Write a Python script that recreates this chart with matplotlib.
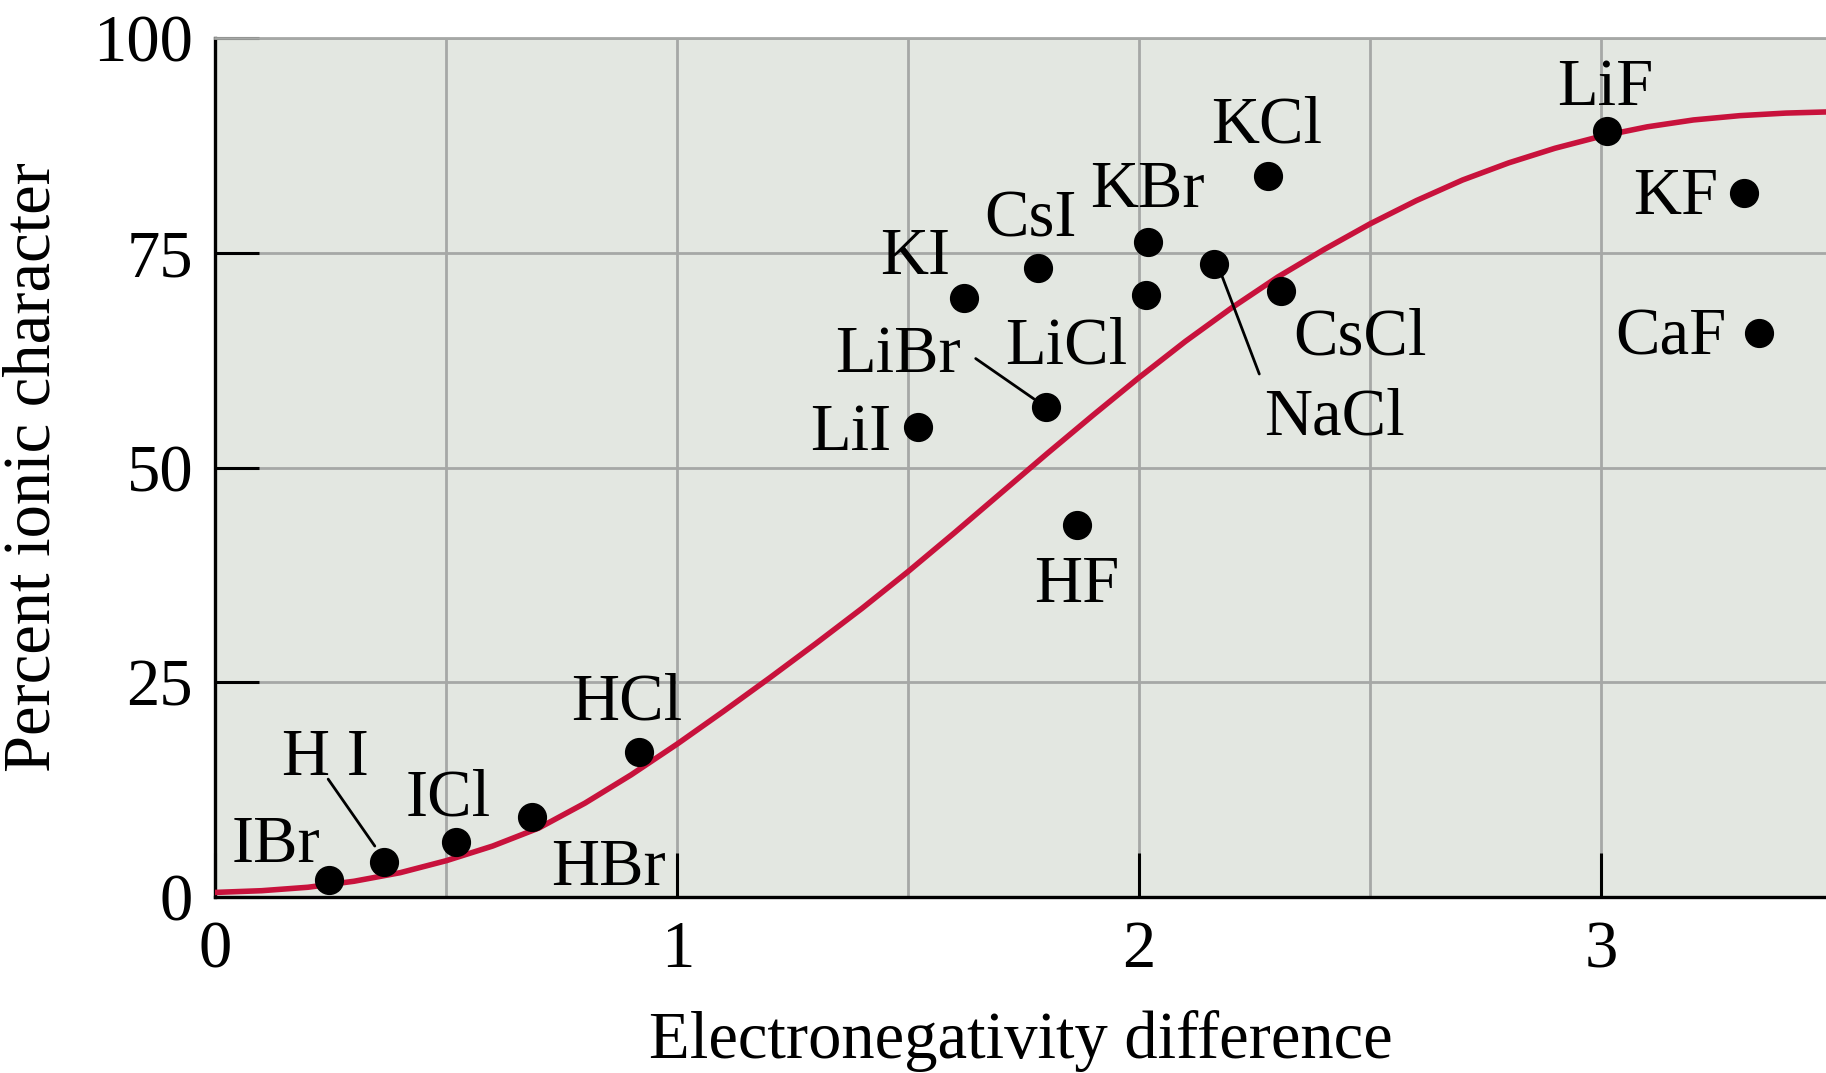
import matplotlib
matplotlib.use('Agg')
import matplotlib.pyplot as plt

# ---- data ----
compounds = ['IBr', 'H I', 'ICl', 'HBr', 'HCl', 'LiI', 'KI', 'CsI', 'LiBr', 'HF',
             'LiCl', 'KBr', 'NaCl', 'KCl', 'CsCl', 'LiF', 'KF', 'CaF']
en_diff = [0.245, 0.365, 0.52, 0.685, 0.918, 1.522, 1.621, 1.78, 1.798, 1.865,
           2.014, 2.018, 2.162, 2.279, 2.308, 3.012, 3.31, 3.343]
ionic_pct = [1.9, 4.0, 6.4, 9.3, 16.9, 54.7, 69.8, 73.3, 57.0, 43.3,
             70.1, 76.3, 73.7, 84.0, 70.6, 89.2, 82.0, 65.7]

curve_x = [0.0, 0.1, 0.2, 0.3, 0.4, 0.5, 0.6, 0.7, 0.8, 0.9, 1.0, 1.1, 1.2, 1.3,
           1.4, 1.5, 1.6, 1.7, 1.8, 1.9, 2.0, 2.1, 2.2, 2.3, 2.4, 2.5, 2.6, 2.7,
           2.8, 2.9, 3.0, 3.1, 3.2, 3.3, 3.4, 3.5]
curve_y = [0.5, 0.7, 1.1, 1.8, 2.8, 4.2, 5.9, 8.0, 10.9, 14.2, 17.8, 21.6, 25.5,
           29.5, 33.6, 37.9, 42.4, 47.0, 51.6, 56.1, 60.5, 64.7, 68.6, 72.2, 75.4,
           78.4, 81.1, 83.5, 85.5, 87.2, 88.6, 89.7, 90.5, 91.0, 91.3, 91.45]

x_ticks = [0, 1, 2, 3]
y_ticks = [0, 25, 50, 75, 100]
x_grid = [0.5, 1.5, 2.5]

# label anchor positions (center, baseline) in data units
label_pos = {
    'IBr': (0.131, 4.1), 'H I': (0.239, 14.2), 'ICl': (0.504, 9.5),
    'HBr': (0.85, 1.4), 'HCl': (0.89, 20.6), 'LiI': (1.376, 52.1),
    'KI': (1.515, 72.5), 'CsI': (1.765, 76.9), 'KBr': (2.017, 80.3),
    'KCl': (2.276, 87.9), 'LiBr': (1.477, 61.1), 'LiCl': (1.843, 62.1),
    'NaCl': (2.423, 53.9), 'CsCl': (2.478, 63.2), 'HF': (1.865, 34.3),
    'LiF': (3.010, 92.3), 'KF': (3.161, 79.5), 'CaF': (3.151, 63.2),
}
leaders = [((0.244, 13.7), (0.345, 5.9)),
           ((1.646, 62.7), (1.772, 58.0)),
           ((2.173, 73.2), (2.260, 60.9))]

# ---- styling ----
serif = ['Liberation Serif', 'DejaVu Serif']
plt.rcParams['font.family'] = serif
FS = 48
grid_c = '#a6a8a6'
bg = '#e3e7e1'
red = '#c8123c'

fig = plt.figure(figsize=(18.26, 10.73), dpi=100)
ax = fig.add_axes([0.118, 0.1643, 0.882, 0.7999])
ax.set_facecolor(bg)

ax.set_xlim(0, 3.487)
ax.set_ylim(0, 100)

ax.set_xticks(x_ticks)
ax.set_yticks(y_ticks)
ax.set_xticks(x_grid, minor=True)
ax.set_xticklabels([str(t) for t in x_ticks])
ax.set_yticklabels([str(t) for t in y_ticks])
ax.grid(which='both', color=grid_c, linewidth=2.0, zorder=0)
ax.set_axisbelow(True)

ax.tick_params(which='major', direction='in', length=32, width=2.2,
               color='black', labelsize=FS, pad=16)
ax.tick_params(axis='x', which='major', pad=17)
ax.tick_params(which='minor', length=0)

for s in ['left', 'bottom']:
    ax.spines[s].set_linewidth(2.4)
    ax.spines[s].set_color('black')
ax.spines['right'].set_visible(False)
ax.spines['top'].set_color(grid_c)
ax.spines['top'].set_linewidth(2.0)

ax.plot(curve_x, curve_y, color=red, linewidth=4.0, zorder=3,
        solid_joinstyle='round')
ax.plot(en_diff, ionic_pct, 'o', color='black', markersize=20, zorder=4)

for name in compounds:
    lx, ly = label_pos[name]
    ax.text(lx, ly, name, fontsize=FS, ha='center', va='baseline', zorder=5)

for (x0, y0), (x1, y1) in leaders:
    ax.annotate('', xy=(x1, y1), xytext=(x0, y0),
                arrowprops=dict(arrowstyle='-', color='black', lw=2.0,
                                shrinkA=0, shrinkB=0), zorder=5)

ax.set_xlabel('Electronegativity difference', fontsize=FS)
ax.set_ylabel('Percent ionic character', fontsize=FS)
ax.xaxis.label.set_va('baseline')
ax.xaxis.set_label_coords(0.5, -0.188)
ax.yaxis.label.set_va('baseline')
ax.yaxis.set_label_coords(-0.103, 0.5)

fig.savefig('out.png', dpi=100, facecolor='white')
